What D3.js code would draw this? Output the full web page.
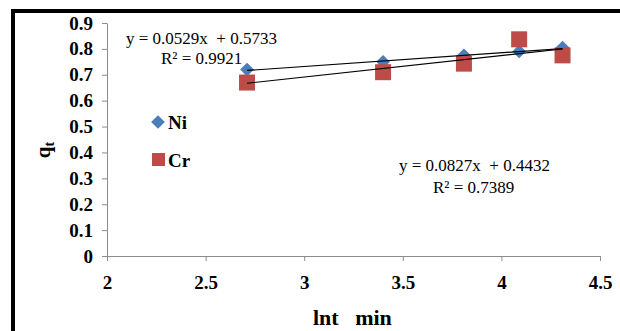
<!DOCTYPE html>
<html>
<head>
<meta charset="utf-8">
<script src="https://cdn.jsdelivr.net/npm/d3@7"></script>
<style>
  body { margin: 0; background: #fff; }
  svg text { font-family: "Liberation Serif", "Times New Roman", serif !important; }
</style>
</head>
<body>
<div id="chart"></div>
<script>
// data
var lnT = [2.71, 3.40, 3.81, 4.09, 4.31];
var niValues = [0.72, 0.75, 0.775, 0.79, 0.805];
var crValues = [0.67, 0.71, 0.743, 0.837, 0.775];
var xTicks = [2, 2.5, 3, 3.5, 4, 4.5];
var yTicks = [0, 0.1, 0.2, 0.3, 0.4, 0.5, 0.6, 0.7, 0.8, 0.9];
// trendline coefficients [slope, intercept]
var niFit = [0.0529, 0.5733];
var crFit = [0.0827, 0.4432];

var W = 620, H = 331;
var margin = {top: 23, right: 20, bottom: 75, left: 107},
    width = 600 - margin.left,
    height = 256 - margin.top;

var root = d3.select("#chart").append("svg")
    .attr("width", W).attr("height", H);

// black frame (top + left)
root.append("line").attr("x1", 11).attr("x2", W).attr("y1", 11).attr("y2", 11)
    .attr("stroke", "#000").attr("stroke-width", 4);
root.append("line").attr("x1", 13).attr("x2", 13).attr("y1", 9).attr("y2", H)
    .attr("stroke", "#000").attr("stroke-width", 4);

var svg = root.append("g")
    .attr("transform", "translate(" + margin.left + "," + margin.top + ")");

var x = d3.scaleLinear().domain([2, 4.5]).range([0, width]);
var y = d3.scaleLinear().domain([0, 0.9]).range([height, 0]);

// X axis
var xAxis = svg.append("g")
    .attr("transform", "translate(0," + height + ")")
    .call(d3.axisBottom(x).tickValues(xTicks).tickSize(5).tickSizeOuter(0)
        .tickFormat(d3.format("")));
xAxis.attr("font-family", null).attr("font-size", null);
xAxis.select(".domain").attr("stroke", "#8c8c8c");
xAxis.selectAll(".tick line").attr("stroke", "#8c8c8c");
xAxis.selectAll("text")
    .style("font-size", "19px").style("font-weight", "bold")
    .attr("fill", "#000").attr("dy", "1.3em");

// Y axis
var yAxis = svg.append("g")
    .call(d3.axisLeft(y).tickValues(yTicks).tickSize(5).tickSizeOuter(0)
        .tickFormat(d3.format("")));
yAxis.attr("font-family", null).attr("font-size", null);
yAxis.select(".domain").attr("stroke", "#8c8c8c");
yAxis.selectAll(".tick line").attr("stroke", "#8c8c8c");
yAxis.selectAll("text")
    .style("font-size", "19px").style("font-weight", "bold")
    .attr("fill", "#000").attr("x", -14);

var diamond = d3.symbol().type(d3.symbolDiamond2).size(120);

// Ni points
svg.append("g").selectAll("path")
    .data(lnT.map(function (d, i) { return [d, niValues[i]]; }))
    .enter().append("path")
    .attr("d", diamond)
    .attr("transform", function (d) { return "translate(" + x(d[0]) + "," + y(d[1]) + ")"; })
    .attr("fill", "#4a7ebb");

// Cr points
var sq = 16;
svg.append("g").selectAll("rect")
    .data(lnT.map(function (d, i) { return [d, crValues[i]]; }))
    .enter().append("rect")
    .attr("x", function (d) { return x(d[0]) - sq / 2; })
    .attr("y", function (d) { return y(d[1]) - sq / 2; })
    .attr("width", sq).attr("height", sq)
    .attr("fill", "#be4b48");

// trendlines
var xMin = d3.min(lnT), xMax = d3.max(lnT);
[niFit, crFit].forEach(function (f) {
    svg.append("line")
        .attr("x1", x(xMin)).attr("y1", y(f[0] * xMin + f[1]))
        .attr("x2", x(xMax)).attr("y2", y(f[0] * xMax + f[1]))
        .attr("stroke", "#000").attr("stroke-width", 1.2);
});

// equations
function label(tx, ty, s) {
    root.append("text").attr("x", tx).attr("y", ty)
        .attr("xml:space", "preserve")
        .style("font-size", "17px").attr("fill", "#000")
        .text(s);
}
label(126, 44, "y = 0.0529x  + 0.5733");
label(161, 64, "R\u00b2 = 0.9921");
label(399, 171, "y = 0.0827x  + 0.4432");
label(433, 193, "R\u00b2 = 0.7389");

// legend
root.append("path").attr("d", diamond)
    .attr("transform", "translate(158,122)").attr("fill", "#4a7ebb");
root.append("text").attr("x", 168).attr("y", 129)
    .style("font-size", "19px").style("font-weight", "bold").text("Ni");
root.append("rect").attr("x", 152).attr("y", 153).attr("width", 13).attr("height", 13)
    .attr("fill", "#be4b48");
root.append("text").attr("x", 168).attr("y", 167)
    .style("font-size", "19px").style("font-weight", "bold").text("Cr");

// axis titles
var yl = root.append("text")
    .attr("transform", "translate(50,150) rotate(-90)")
    .attr("text-anchor", "middle")
    .style("font-size", "21px").style("font-weight", "bold");
yl.append("tspan").text("q");
yl.append("tspan").style("font-size", "14px").attr("dy", "4").text("t");

root.append("text").attr("x", 313).attr("y", 325)
    .attr("xml:space", "preserve")
    .style("font-size", "22px").style("font-weight", "bold")
    .text("lnt   min");
</script>
</body>
</html>
